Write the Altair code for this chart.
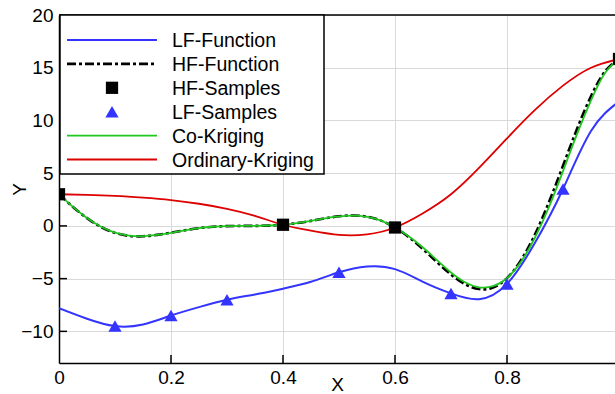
import altair as alt
import pandas as pd

# ---- data -------------------------------------------------------------
x_fine = [0.0, 0.025, 0.05, 0.075, 0.1, 0.125, 0.15, 0.175, 0.2, 0.225,
          0.25, 0.275, 0.3, 0.325, 0.35, 0.375, 0.4, 0.425, 0.45, 0.475,
          0.5, 0.525, 0.55, 0.575, 0.6, 0.625, 0.65, 0.675, 0.7, 0.725,
          0.75, 0.775, 0.8, 0.825, 0.85, 0.875, 0.9, 0.925, 0.95, 0.975, 1.0]
hf_function = [3.0, 1.8, 0.74, -0.1, -0.66, -0.94, -0.98, -0.85, -0.64, -0.41,
               -0.21, -0.08, -0.02, 0.0, 0.0, 0.03, 0.11, 0.27, 0.48, 0.72,
               0.91, 0.99, 0.87, 0.5, -0.15, -1.07, -2.21, -3.44, -4.61, -5.52,
               -5.99, -5.84, -4.95, -3.25, -0.8, 2.27, 5.71, 9.19, 12.3, 14.65, 15.83]
co_kriging = [3.0, 1.8, 0.74, -0.08, -0.64, -0.92, -0.97, -0.85, -0.65, -0.42,
              -0.22, -0.08, -0.02, 0.0, 0.01, 0.04, 0.11, 0.27, 0.48, 0.72,
              0.9, 0.98, 0.86, 0.5, -0.15, -1.0, -2.05, -3.25, -4.42, -5.35,
              -5.82, -5.72, -4.95, -3.4, -1.1, 1.8, 5.2, 8.7, 11.9, 14.5, 15.83]

x_coarse = [0.0, 0.05, 0.1, 0.15, 0.2, 0.25, 0.3, 0.35, 0.4, 0.45, 0.5,
            0.55, 0.6, 0.65, 0.7, 0.75, 0.8, 0.85, 0.9, 0.95, 1.0]
lf_function = [-7.8, -8.8, -9.5, -9.35, -8.5, -7.7, -7.0, -6.5, -5.95, -5.3, -4.4,
               -3.85, -4.1, -5.3, -6.4, -6.95, -5.5, -1.6, 3.5, 9.0, 11.8]
ordinary_kriging = [3.0, 2.95, 2.85, 2.68, 2.45, 2.1, 1.62, 0.95, 0.11, -0.45, -0.85,
                    -0.8, -0.15, 1.2, 3.0, 5.5, 8.3, 11.0, 13.3, 15.0, 15.83]

hf_x = [0.0, 0.4, 0.6, 1.0]
hf_y = [3.0, 0.11, -0.15, 15.83]
lf_x = [0.1, 0.2, 0.3, 0.5, 0.7, 0.8, 0.9]
lf_y = [-9.5, -8.5, -7.0, -4.4, -6.4, -5.5, 3.5]

x_ticks = [0.0, 0.2, 0.4, 0.6, 0.8, 1.0]
y_ticks = [-10, -5, 0, 5, 10, 15, 20]

legend_names = ["LF-Function", "HF-Function", "HF-Samples",
                "LF-Samples", "Co-Kriging", "Ordinary-Kriging"]

# ---- styling ----------------------------------------------------------
BLUE = "#3434ff"
BLACK = "#000000"
GREEN = "#1ec81e"
RED = "#dd0000"
FONT = "Liberation Sans"
W, H = 556, 348
X_MAX = 556 / 560  # plot runs past the window's right edge

xs = alt.Scale(domain=[0, X_MAX], nice=False, zero=False)
ys = alt.Scale(domain=[-13, 20], nice=False, zero=False)

x_axis = alt.Axis(values=x_ticks, title="X", format="~g", ticks=False,
                  labelPadding=5, labelFlush=False,
                  titleBaseline="middle", titleY=21)
y_axis = alt.Axis(values=y_ticks, title="Y", ticks=False, labelPadding=6,
                  labelFlush=False, titleX=-40, titleY=H / 2, titleAngle=-90,
                  titleBaseline="middle", titleAlign="center")


def X(field):
    return alt.X(f"{field}:Q", scale=xs, axis=x_axis)


def Y(field):
    return alt.Y(f"{field}:Q", scale=ys, axis=y_axis)


fine = pd.DataFrame({"x": x_fine, "hf": hf_function, "ck": co_kriging})
coarse = pd.DataFrame({"x": x_coarse, "lf": lf_function, "ok": ordinary_kriging})
hf_pts = pd.DataFrame({"x": hf_x, "y": hf_y})
lf_pts = pd.DataFrame({"x": lf_x, "y": lf_y})


def curve(df, field, color, width, dash=None):
    kw = dict(color=color, strokeWidth=width, interpolate="natural", clip=True)
    if dash:
        kw["strokeDash"] = dash
    return alt.Chart(df).mark_line(**kw).encode(x=X("x"), y=Y(field))


lf_line = curve(coarse, "lf", BLUE, 2)
hf_line = curve(fine, "hf", BLACK, 2.6, dash=[9, 3, 3, 3])
ck_line = curve(fine, "ck", GREEN, 1.8)
ok_line = curve(coarse, "ok", RED, 1.8)

hf_marks = alt.Chart(hf_pts).mark_point(
    shape="square", filled=True, size=150, color=BLACK, opacity=1, clip=True
).encode(x=X("x"), y=Y("y"))
lf_marks = alt.Chart(lf_pts).mark_point(
    shape="triangle-up", filled=True, size=175, color=BLUE, opacity=1, clip=True
).encode(x=X("x"), y=Y("y"))

# inward tick marks and the top frame line
xt = alt.Chart(pd.DataFrame({"t": x_ticks[1:-1]})).mark_rule(
    color=BLACK, strokeWidth=1.5
).encode(x=X("t"), y=alt.value(H), y2=alt.value(H - 8))
yt = alt.Chart(pd.DataFrame({"t": y_ticks[:-1]})).mark_rule(
    color=BLACK, strokeWidth=1.5
).encode(y=Y("t"), x=alt.value(0), x2=alt.value(8))

one = pd.DataFrame({"k": [0]})
top_line = alt.Chart(one).mark_rule(color=BLACK, strokeWidth=1.5).encode(
    x=alt.value(0), x2=alt.value(W), y=alt.value(0))

# legend box
box = alt.Chart(one).mark_rect(
    fill="white", stroke=BLACK, strokeWidth=1.5
).encode(x=alt.value(1), x2=alt.value(265), y=alt.value(0), y2=alt.value(159))

legend_layers = [box]
row0, step = 25, 23.9
styles = [
    ("line", BLUE, None),
    ("line", BLACK, [9, 3, 3, 3]),
    ("square", BLACK, None),
    ("triangle-up", BLUE, None),
    ("line", GREEN, None),
    ("line", RED, None),
]
for i, (name, (kind, col, dash)) in enumerate(zip(legend_names, styles)):
    yy = row0 + step * i
    if kind == "line":
        kw = dict(color=col, strokeWidth=2.6 if dash else 1.8)
        if dash:
            kw["strokeDash"] = dash
        legend_layers.append(alt.Chart(one).mark_rule(**kw).encode(
            x=alt.value(8), x2=alt.value(98), y=alt.value(yy)))
    else:
        legend_layers.append(alt.Chart(one).mark_point(
            shape=kind, filled=True, size=175 if kind != "square" else 150,
            color=col, opacity=1
        ).encode(x=alt.value(53), y=alt.value(yy)))
    legend_layers.append(alt.Chart(one).mark_text(
        text=name, align="left", baseline="middle", font=FONT, fontSize=19.5,
        color=BLACK
    ).encode(x=alt.value(113), y=alt.value(yy + 1)))

chart = alt.layer(
    lf_line, hf_line, ck_line, ok_line, hf_marks, lf_marks, xt, yt, top_line,
    *legend_layers
).properties(
    width=W, height=H,
    padding={"left": 59, "top": 15, "right": 0, "bottom": 31},
    autosize=alt.AutoSizeParams(type="none"),
    background="white",
).configure_view(
    strokeWidth=0
).configure_axis(
    labelFont=FONT, labelFontSize=19, labelColor=BLACK,
    titleFont=FONT, titleFontSize=19, titleColor=BLACK, titleFontWeight="normal",
    domainColor=BLACK, domainWidth=1.5,
    gridColor="#d9d9d9", gridWidth=1,
)

chart.save("out.html", embed_options={"renderer": "svg", "actions": False})
